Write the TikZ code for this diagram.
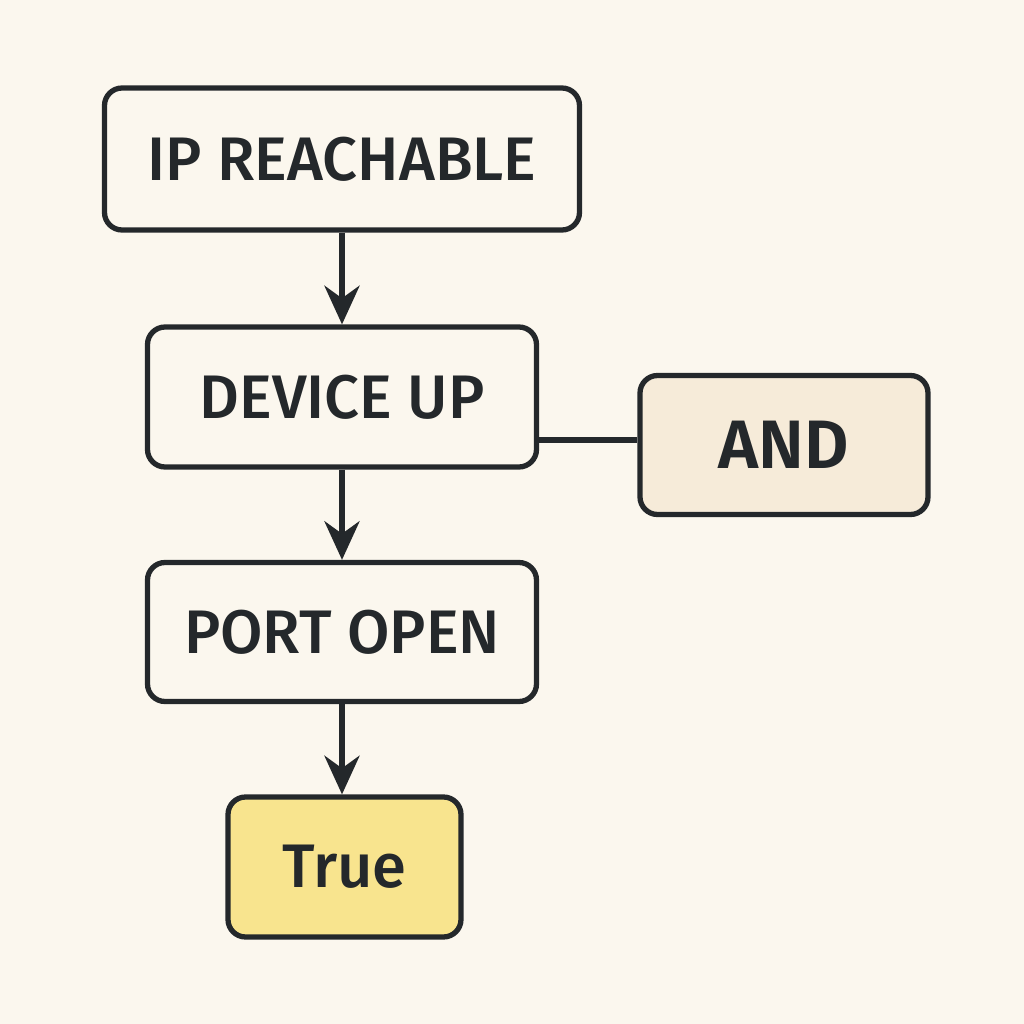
\documentclass[tikz,border=0pt]{standalone}
\usepackage{fontspec}
\setmainfont{Fira Sans}[BoldFont={Fira Sans Medium}]
\newfontfamily\andfont{Fira Sans SemiBold}
\usetikzlibrary{arrows.meta}

\definecolor{paper}{HTML}{FBF7EE}
\definecolor{ink}{HTML}{24282B}
\definecolor{andfill}{HTML}{F6EBD9}
\definecolor{truefill}{HTML}{F8E48E}

\tikzset{
  box/.style={draw=ink, line width=1.5pt, rounded corners=5pt, fill=paper,
    text=ink, font=\fontsize{17.5}{20}\selectfont\bfseries, align=center,
    inner sep=0pt},
  flow/.style={draw=ink, line width=1.5pt, -{Stealth[length=11pt, width=10pt]}},
}

\begin{document}
\begin{tikzpicture}
\fill[paper] (0,0) rectangle (10.24,10.24);
\useasboundingbox (0,0) rectangle (10.24,10.24);

\node[box, minimum width=4.75cm, minimum height=1.42cm] (ip) at (3.42,8.65) {IP REACHABLE};
\node[box, minimum width=3.89cm, minimum height=1.40cm] (dev) at (3.42,6.27) {DEVICE UP};
\node[box, minimum width=2.88cm, minimum height=1.39cm, fill=andfill,
  font=\fontsize{19.5}{22}\selectfont\andfont] (and) at (7.84,5.79) {AND};
\node[box, minimum width=3.89cm, minimum height=1.39cm] (port) at (3.42,3.92) {PORT OPEN};
\node[box, minimum width=2.33cm, minimum height=1.40cm, fill=truefill] (true) at (3.445,1.57) {True};

% links
\draw[flow] (ip) -- (dev);
\draw[flow] (dev) -- (port);
\draw[flow] (port.south) -- (port.south |- true.north);
\coordinate (tee) at ([yshift=0.05cm]and.west);
\draw[ink, line width=1.5pt] (tee -| dev.east) -- (tee);
\end{tikzpicture}
\end{document}
